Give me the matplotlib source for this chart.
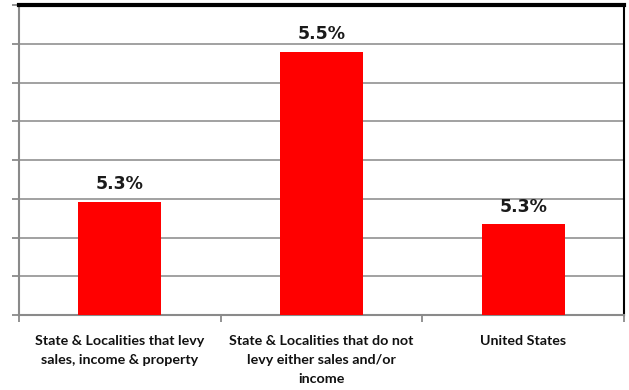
import matplotlib.pyplot as plt

# Tax burden by type of state/local tax structure
categories = [
    "State & Localities that levy\nsales, income & property",
    "State & Localities that do not\nlevy either sales and/or\nincome",
    "United States",
]
values = [5.296, 5.490, 5.267]

plt.rcParams["font.family"] = ["Lato", "DejaVu Sans"]

fig = plt.figure(figsize=(6.29, 3.90), dpi=100)
ax = fig.add_axes([19 / 629, 1 - 315 / 390, 605 / 629, 310 / 390])

x = range(len(values))
ax.bar(x, values, width=0.41, color="#ff0000", zorder=3)

ax.set_xlim(-0.5, len(values) - 0.5)
ax.set_ylim(5.15, 5.55)
ax.set_yticks([5.15 + 0.05 * i for i in range(9)])
ax.set_yticklabels([])
ax.yaxis.grid(True, color="#9a9a9a", linewidth=1.3, zorder=0)

# value labels above each bar
for xi, v in zip(x, values):
    ax.text(xi, v + 0.011, f"{v:.1f}%", ha="center", va="bottom",
            fontsize=12.5, fontweight="bold", color="#1a1a1a",
            family="DejaVu Sans")

# category labels below the axis, ticks at category boundaries
ax.set_xticks([-0.5, 0.5, 1.5, 2.5])
ax.set_xticklabels([])
for xi, lab in zip(x, categories):
    ax.text(xi, 5.15 - 0.026, lab, ha="center", va="top", fontsize=10.3,
            fontweight="bold", color="#111111", linespacing=1.68)

ax.tick_params(axis="both", direction="out", length=5, width=1.3, color="#8a8a8a")

for side in ["left", "bottom"]:
    ax.spines[side].set_color("#8a8a8a")
    ax.spines[side].set_linewidth(1.5)
ax.spines["top"].set_color("black")
ax.spines["top"].set_linewidth(3)
ax.spines["right"].set_color("black")
ax.spines["right"].set_linewidth(1.5)

fig.savefig("out.png", dpi=100)
